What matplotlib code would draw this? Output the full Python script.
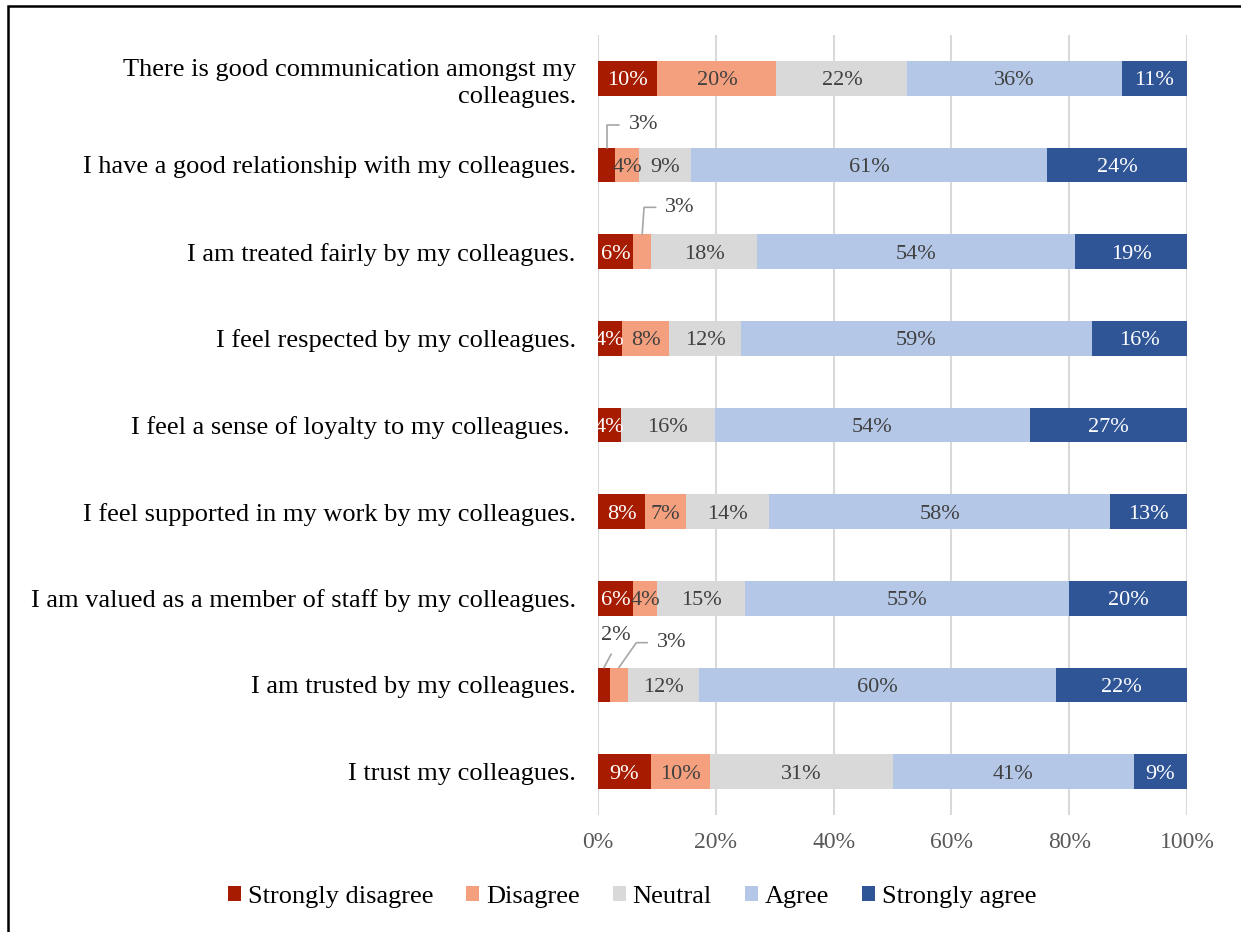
import numpy as np
import matplotlib
matplotlib.use("Agg")
import matplotlib.pyplot as plt
from matplotlib.patches import Patch, Rectangle

plt.rcParams["font.family"] = ["Liberation Serif", "DejaVu Serif"]
plt.rcParams["font.size"] = 16

# survey statements, top to bottom
statements = [
    "There is good communication amongst my\ncolleagues.",
    "I have a good relationship with my colleagues.",
    "I am treated fairly by my colleagues.",
    "I feel respected by my colleagues.",
    "I feel a sense of loyalty to my colleagues. ",
    "I feel supported in my work by my colleagues.",
    "I am valued as a member of staff by my colleagues.",
    "I am trusted by my colleagues.",
    "I trust my colleagues.",
]
responses = ["Strongly disagree", "Disagree", "Neutral", "Agree", "Strongly agree"]

strongly_disagree = [10, 3, 6, 4, 4, 8, 6, 2, 9]
disagree = [20, 4, 3, 8, 0, 7, 4, 3, 10]
neutral = [22, 9, 18, 12, 16, 14, 15, 12, 31]
agree = [36, 61, 54, 59, 54, 58, 55, 60, 41]
strongly_agree = [11, 24, 19, 16, 27, 13, 20, 22, 9]

colors = ["#A71B00", "#F4A07E", "#D9D9D9", "#B4C7E7", "#2F5597"]
text_colors = ["white", "#404040", "#404040", "#404040", "white"]

# small segments labelled outside the bar: (row, response, text offset px, leader style)
callouts = [
    (1, 0, (37, 23), "angle,angleA=0,angleB=90,rad=0"),
    (2, 1, (38, 27), "angle,angleA=0,angleB=86,rad=0"),
    (7, 0, (12, 32), "arc3,rad=0"),
    (7, 1, (53, 25), "angle,angleA=0,angleB=55,rad=0"),
]

data = np.array([strongly_disagree, disagree, neutral, agree, strongly_agree], dtype=float).T
shares = data / data.sum(axis=1, keepdims=True) * 100
y = np.arange(len(statements))
bar_h = 0.40

fig = plt.figure(figsize=(12.41, 9.32), dpi=100)
ax = fig.add_axes([598 / 1241, 1 - 815 / 932, 589 / 1241, 780 / 932])

left = np.zeros(len(statements))
for j, name in enumerate(responses):
    ax.barh(y, shares[:, j], left=left, height=bar_h, color=colors[j], label=name, zorder=3)
    left += shares[:, j]

callout_cells = {(r, c) for r, c, _, _ in callouts}
starts = np.cumsum(shares, axis=1) - shares
for i in range(len(statements)):
    for j in range(len(responses)):
        val = data[i, j]
        if val == 0 or (i, j) in callout_cells:
            continue
        cx = starts[i, j] + shares[i, j] / 2
        ax.text(cx, y[i], f"{val:.0f}%", ha="center", va="center_baseline",
                color=text_colors[j], fontsize=16, zorder=4)

for i, j, offset, style in callouts:
    cx = starts[i, j] + shares[i, j] / 2
    relpos = (0.5, 0.0) if style.startswith("arc3") else (0.0, 0.5)
    ax.annotate(f"{data[i, j]:.0f}%", xy=(cx, y[i] - bar_h / 2), xytext=offset,
                textcoords="offset pixels", ha="center", va="center",
                color="#404040", fontsize=16, zorder=5,
                arrowprops=dict(arrowstyle="-", color="#A6A6A6", lw=1.2,
                                connectionstyle=style, relpos=relpos,
                                shrinkA=5, shrinkB=0))

ax.set_xlim(0, 100)
ax.set_ylim(len(statements) - 0.5, -0.5)
ax.set_xticks(np.arange(0, 101, 20))
ax.set_xticklabels([f"{t}%" for t in range(0, 101, 20)], fontsize=17)
ax.set_yticks(y)
ax.set_yticklabels(statements, multialignment="right", fontsize=19, linespacing=1.3)
ax.tick_params(axis="y", length=0, pad=16, labelcolor="black")
ax.tick_params(axis="x", length=0, pad=12, labelcolor="#595959")
ax.grid(axis="x", color="#D9D9D9", lw=1.5, zorder=0)
for side in ax.spines.values():
    side.set_visible(False)

handles = [Patch(facecolor=c, label=n) for c, n in zip(colors, responses)]
fig.legend(handles=handles, loc="center", bbox_to_anchor=(632 / 1241, 1 - 897 / 932),
           ncol=5, frameon=False, handlelength=0.5, handleheight=0.5,
           handletextpad=0.25, columnspacing=1.25, fontsize=19)

# outer border of the chart area
fig.patches.append(Rectangle((7.5 / 1241, -0.1), 1.2, 1.1 - 5.5 / 932, transform=fig.transFigure,
                             fill=False, edgecolor="black", lw=1.8))

fig.savefig("out.png", dpi=100)
